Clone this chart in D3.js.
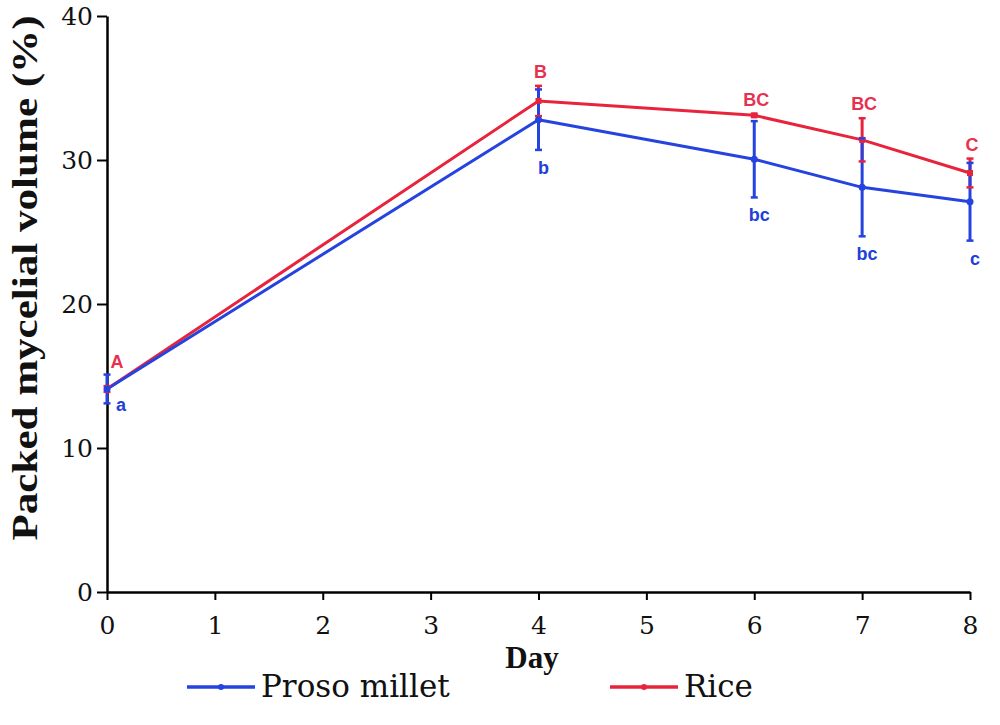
<!DOCTYPE html>
<html>
<head>
<meta charset="utf-8">
<script src="https://cdn.jsdelivr.net/npm/d3@7"></script>
<style>
  body { margin: 0; background: #fff; }
  svg { display: block; }
</style>
</head>
<body>
<svg id="chart" width="1000" height="725"></svg>
<script>
const days = [0, 4, 6, 7, 8];
const milletMean = [14.1, 32.8, 30.05, 28.1, 27.1];
const milletErr = [1.0, 2.1, 2.65, 3.4, 2.7];
const riceMean = [14.1, 34.1, 33.1, 31.4, 29.1];
const riceErr = [0.2, 1.05, 0.1, 1.5, 1.0];
const milletLetters = ["a", "b", "bc", "bc", "c"];
const riceLetters = ["A", "B", "BC", "BC", "C"];
const xTicks = [0, 1, 2, 3, 4, 5, 6, 7, 8];
const yTicks = [0, 10, 20, 30, 40];

const BLUE = "#2443df";
const RED = "#e8243c";
const SERIF = "'DejaVu Serif', serif";
const BOLD_SERIF = "'Liberation Serif', 'DejaVu Serif', serif";
const SANS = "'Liberation Sans', Arial, sans-serif";

const svg = d3.select("#chart");
const x = d3.scaleLinear().domain([0, 8]).range([107, 970]);
const y = d3.scaleLinear().domain([0, 40]).range([592, 16]);

const series = [
	{ name: "Rice", color: RED, mean: riceMean, err: riceErr, letters: riceLetters, above: true },
	{ name: "Proso millet", color: BLUE, mean: milletMean, err: milletErr, letters: milletLetters, above: false },
];

const rows = (s) => days.map((d, i) => ({ day: d, mean: s.mean[i], err: s.err[i], letter: s.letters[i] }));

// axes
const yAxis = svg.append("g")
	.attr("transform", `translate(${x(0)},0)`)
	.call(d3.axisLeft(y).tickValues(yTicks).tickSize(10).tickSizeOuter(0).tickPadding(4));
const xAxis = svg.append("g")
	.attr("transform", `translate(0,${y(0)})`)
	.call(d3.axisBottom(x).tickValues(xTicks).tickSize(8).tickSizeOuter(0).tickPadding(16));

[yAxis, xAxis].forEach((ax) => {
	ax.select(".domain").attr("stroke", "#000").attr("stroke-width", 2.5);
	ax.selectAll(".tick line").attr("stroke", "#000").attr("stroke-width", 2);
	ax.selectAll(".tick text")
		.attr("fill", "#111")
		.attr("font-family", SERIF)
		.attr("font-size", 25);
});

svg.append("text")
	.attr("x", 532)
	.attr("y", 668)
	.attr("text-anchor", "middle")
	.attr("font-family", BOLD_SERIF)
	.attr("font-weight", "bold")
	.attr("font-size", 31)
	.attr("fill", "#111")
	.text("Day");

svg.append("text")
	.attr("transform", "translate(37,278) rotate(-90)")
	.attr("text-anchor", "middle")
	.attr("font-family", BOLD_SERIF)
	.attr("font-weight", "bold")
	.attr("font-size", 35)
	.attr("textLength", 525)
	.attr("lengthAdjust", "spacingAndGlyphs")
	.attr("fill", "#111")
	.text("Packed mycelial volume (%)");

const line = d3.line().x((d) => x(d.day)).y((d) => y(d.mean));

// error bar stems, then lines, then caps and markers
const plot = svg.append("g");
series.forEach((s) => {
	plot.append("g")
		.selectAll("line")
		.data(rows(s))
		.join("line")
		.attr("x1", (d) => x(d.day))
		.attr("x2", (d) => x(d.day))
		.attr("y1", (d) => y(d.mean - d.err))
		.attr("y2", (d) => y(d.mean + d.err))
		.attr("stroke", s.color)
		.attr("stroke-width", 3);
});

series.forEach((s) => {
	plot.append("path")
		.datum(rows(s))
		.attr("d", line)
		.attr("fill", "none")
		.attr("stroke", s.color)
		.attr("stroke-width", 3)
		.attr("stroke-linejoin", "round");
});

series.forEach((s) => {
	const caps = plot.append("g");
	rows(s).forEach((d) => {
		[d.mean - d.err, d.mean + d.err].forEach((v) => {
			caps.append("line")
				.attr("x1", x(d.day) - 3.5)
				.attr("x2", x(d.day) + 3.5)
				.attr("y1", y(v))
				.attr("y2", y(v))
				.attr("stroke", s.color)
				.attr("stroke-width", 2.5);
		});
	});
	if (s.above) {
		caps.selectAll("rect")
			.data(rows(s))
			.join("rect")
			.attr("x", (d) => x(d.day) - 3)
			.attr("y", (d) => y(d.mean) - 3)
			.attr("width", 6)
			.attr("height", 6)
			.attr("fill", s.color);
	} else {
		caps.selectAll("circle")
			.data(rows(s))
			.join("circle")
			.attr("cx", (d) => x(d.day))
			.attr("cy", (d) => y(d.mean))
			.attr("r", 3.5)
			.attr("fill", s.color);
	}
});

// significance letters
series.forEach((s) => {
	plot.append("g")
		.selectAll("text")
		.data(rows(s))
		.join("text")
		.attr("x", (d) => {
			if (d.day === 0) return x(d.day) + (s.above ? 10 : 14);
			return x(d.day) + (s.above ? 2 : 5);
		})
		.attr("y", (d) => {
			if (d.day === 0) return s.above ? y(d.mean) - 21 : y(d.mean - d.err) + 8;
			return s.above ? y(d.mean + d.err) - 8 : y(d.mean - d.err) + 24;
		})
		.attr("text-anchor", "middle")
		.attr("font-family", SANS)
		.attr("font-weight", "bold")
		.attr("font-size", 18)
		.attr("fill", s.above ? "#e8304f" : "#2240d8")
		.text((d) => d.letter);
});

// legend
const legendItems = [
	{ name: "Proso millet", color: BLUE, x0: 187 },
	{ name: "Rice", color: RED, x0: 610 },
];
const legend = svg.append("g");
legendItems.forEach((item) => {
	const g = legend.append("g").attr("transform", `translate(${item.x0},687)`);
	g.append("line")
		.attr("x1", 0)
		.attr("x2", 68)
		.attr("stroke", item.color)
		.attr("stroke-width", 3.5);
	g.append("circle").attr("cx", 34).attr("r", 3).attr("fill", item.color);
	g.append("text")
		.attr("x", 74)
		.attr("y", 10)
		.attr("font-family", SERIF)
		.attr("font-size", 31)
		.attr("fill", "#111")
		.text(item.name);
});
</script>
</body>
</html>
